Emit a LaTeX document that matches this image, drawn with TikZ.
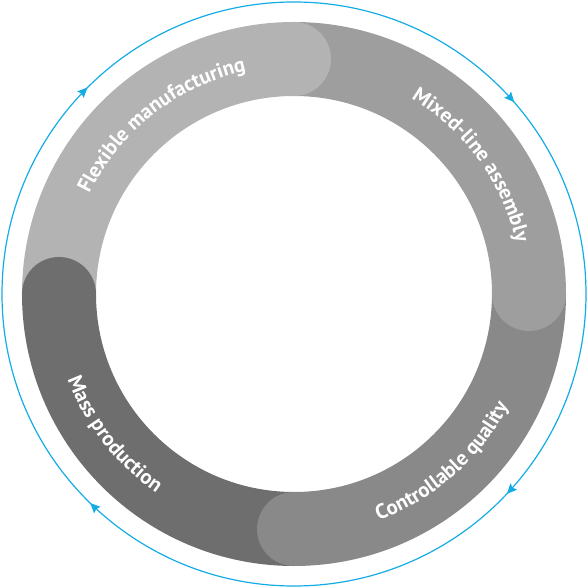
\documentclass[tikz,border=0pt]{standalone}
\usepackage{fontspec}
\setmainfont{PT Sans}
\newfontfamily\lblfont{PT Sans Bold}
\usetikzlibrary{decorations.text,decorations.markings,arrows.meta}
\definecolor{segA}{RGB}{179,179,179}
\definecolor{segB}{RGB}{158,158,158}
\definecolor{segC}{RGB}{137,137,137}
\definecolor{segD}{RGB}{110,110,110}
\definecolor{cyc}{RGB}{20,172,228}
\tikzset{
  ringtext/.style={decorate, decoration={text along path, text align=center,
     text={|\lblfont\fontsize{20.8}{20.8}\selectfont\color{white}|#1}}}
}
\newcommand{\cyctip}{\arrowreversed[cyc]{Stealth[length=10pt,width=9pt,inset=1.5pt]}}
\begin{document}
\begin{tikzpicture}[x=1pt,y=1pt]
\useasboundingbox (-294,-294) rectangle (294,294);
% outer blue cycle with arrows (clockwise)
\draw[cyc, line width=1.2pt, postaction={decorate}, decoration={markings,
  mark=at position 0.114 with {\cyctip},
  mark=at position 0.375 with {\cyctip},
  mark=at position 0.627 with {\cyctip},
  mark=at position 0.880 with {\cyctip}}]
  (0,0) circle[radius=292];
% ring sectors
\fill[segA] (90:198) arc[start angle=90,end angle=180,radius=198] -- (180:272) arc[start angle=180,end angle=90,radius=272] -- cycle;
\fill[segB] (0:198) arc[start angle=0,end angle=90,radius=198] -- (90:272) arc[start angle=90,end angle=0,radius=272] -- cycle;
\fill[segC] (-90:198) arc[start angle=-90,end angle=0,radius=198] -- (0:272) arc[start angle=0,end angle=-90,radius=272] -- cycle;
\fill[segD] (180:198) arc[start angle=180,end angle=270,radius=198] -- (270:272) arc[start angle=270,end angle=180,radius=272] -- cycle;
% rounded caps
\fill[segA] (90:235) circle[radius=37];
\fill[segB] (0:235) circle[radius=37];
\fill[segC] (270:235) circle[radius=37];
\fill[segD] (180:235) circle[radius=37];
% labels
\path[ringtext={Flexible manufacturing}] (178:228) arc[start angle=178,end angle=78,radius=228];
\path[ringtext={Mixed-line assembly}] (86:228) arc[start angle=86,end angle=-14,radius=228];
\path[ringtext={Controllable quality}] (-98.6:242) arc[start angle=-98.6,end angle=1.4,radius=242];
\path[ringtext={Mass production}] (168:242) arc[start angle=168,end angle=268,radius=242];
\end{tikzpicture}
\end{document}
